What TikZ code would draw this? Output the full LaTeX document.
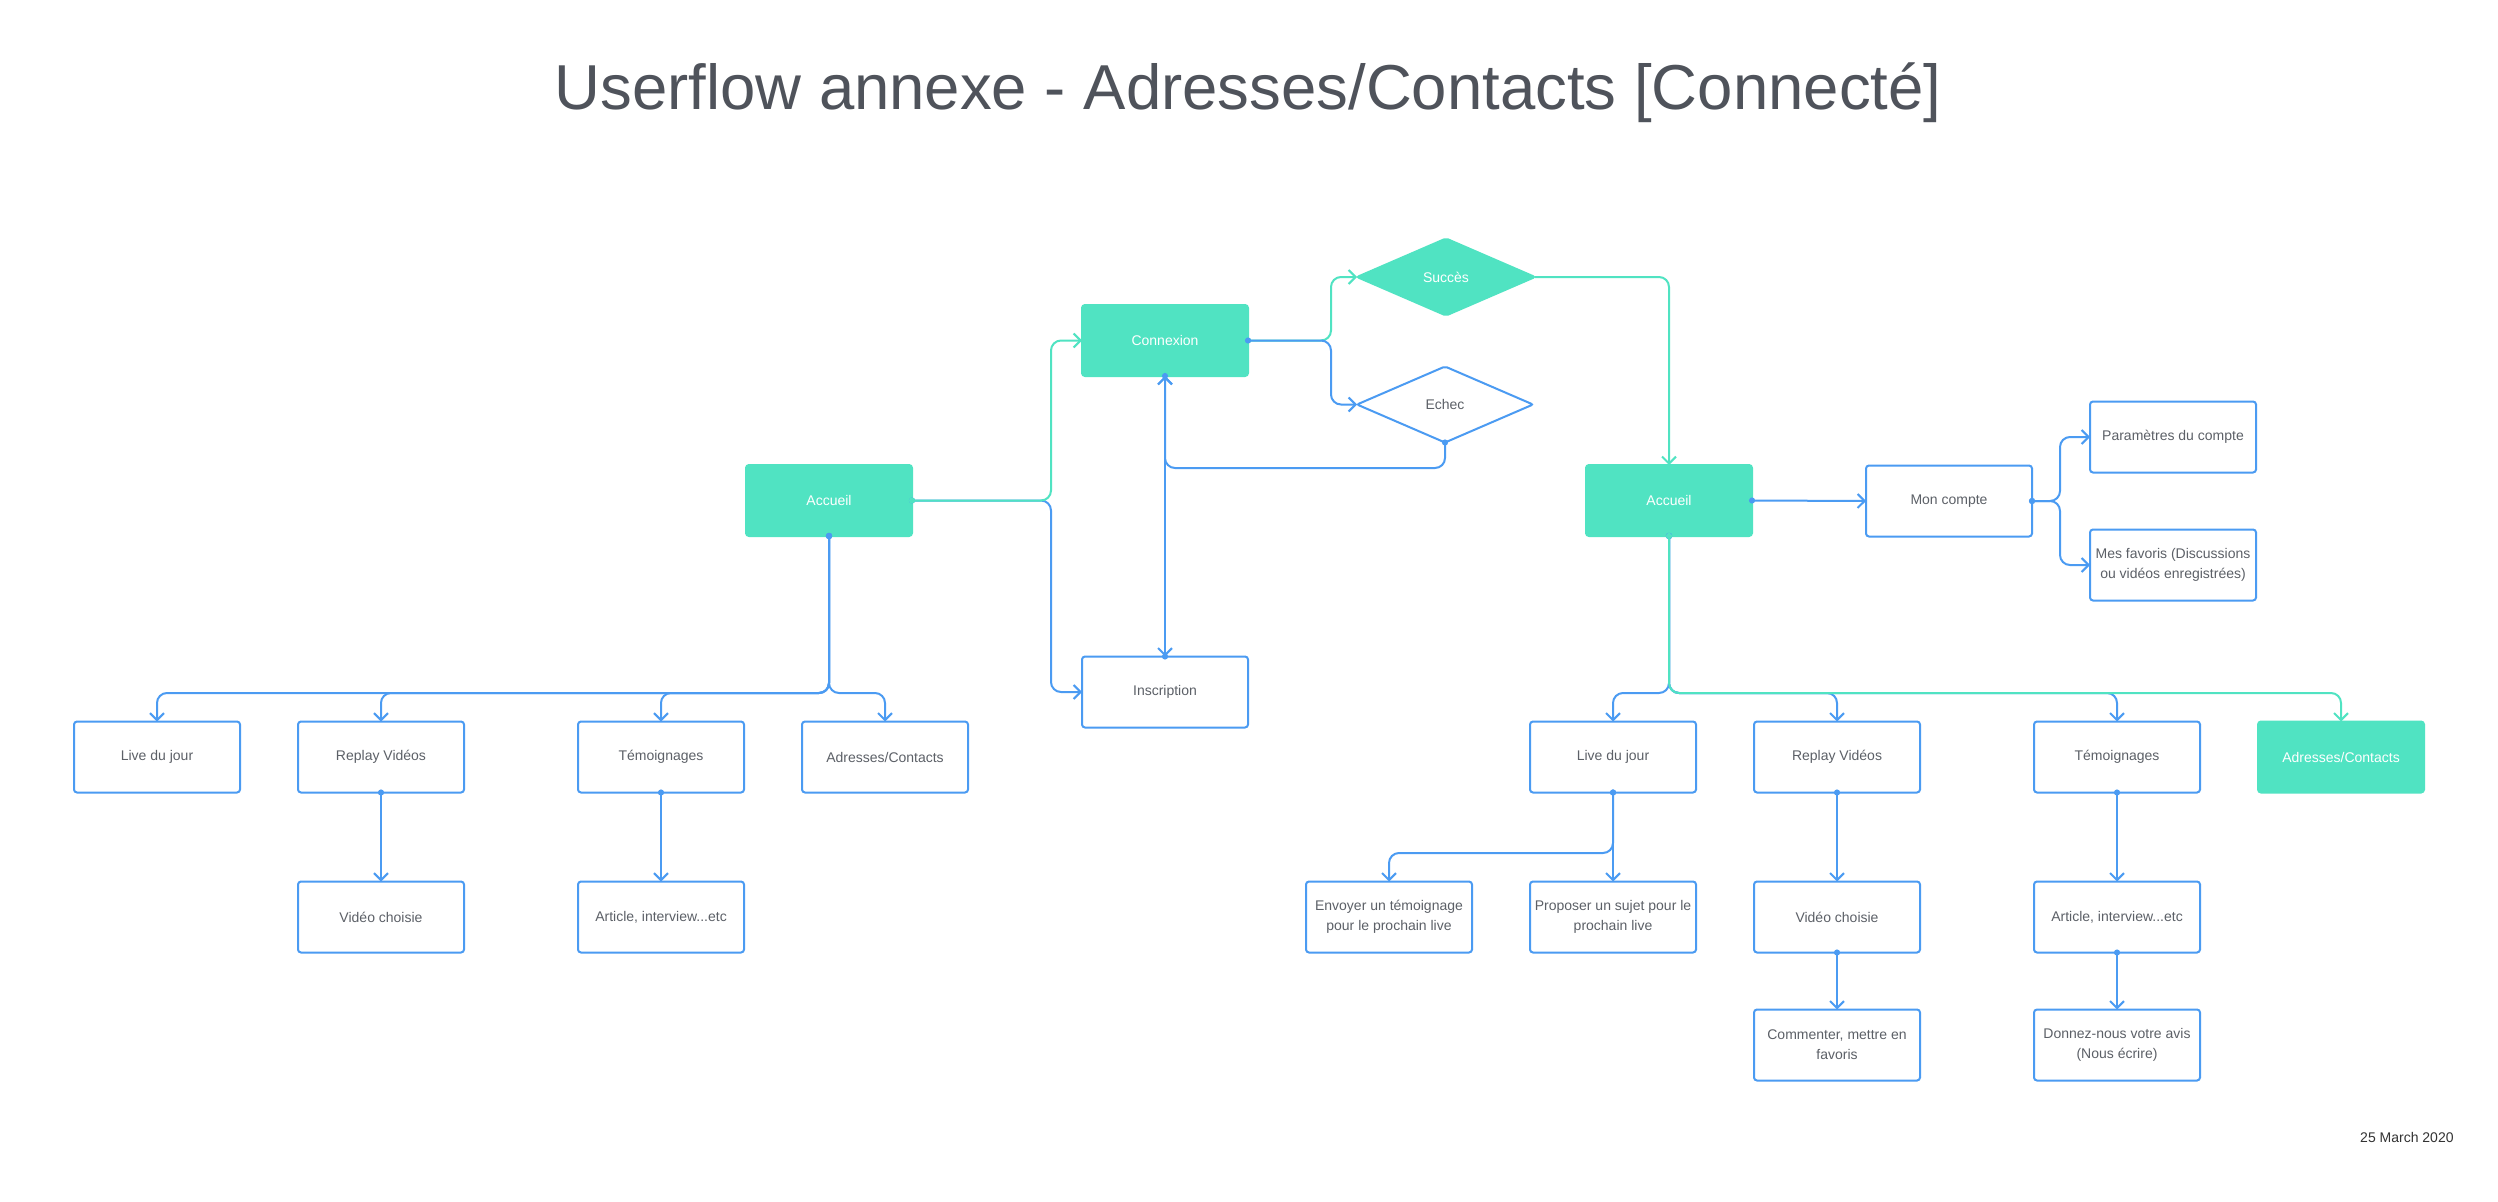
\documentclass[tikz,border=0pt]{standalone}
\usepackage{fontspec}
\setmainfont{Liberation Sans}
\usetikzlibrary{arrows.meta,shapes.geometric}
\definecolor{gr}{HTML}{50E3C2}
\definecolor{bl}{HTML}{4B9BF2}
\definecolor{tx}{HTML}{5C6067}
\definecolor{ttl}{HTML}{4F535B}
\definecolor{dt}{HTML}{333333}
\tikzset{
  box/.style={draw=bl, line width=2pt, rounded corners=3pt, fill=white,
    minimum width=166pt, minimum height=71pt, inner sep=0pt, outer sep=0pt,
    align=center, text=tx, font=\fontsize{14}{20}\selectfont},
  gbox/.style={box, draw=gr, fill=gr, text=white},
  dia/.style={diamond, line width=2pt, rounded corners=2pt, inner sep=0pt, outer sep=0pt,
    minimum width=176pt, minimum height=76pt, font=\fontsize{14}{20}\selectfont},
  gdia/.style={dia, draw=gr, fill=gr, text=white},
  bdia/.style={dia, draw=bl, fill=white, text=tx},
  link/.style={line width=2pt, rounded corners=10pt, shorten <=-3pt,
    {Circle[length=6pt]}-{Straight Barb[length=7pt,width=14pt]}},
  blink/.style={link, draw=bl},
  glink/.style={link, draw=gr},
  gplain/.style={line width=2pt, rounded corners=10pt, draw=gr,
    -{Straight Barb[length=7pt,width=14pt]}},
}
\begin{document}
\begin{tikzpicture}[x=1pt,y=-1pt]
\fill[white] (0,0) rectangle (2498,1202);
\useasboundingbox (0,0) rectangle (2498,1202);

% title and date
\node[anchor=base, text=ttl, font=\fontsize{63.5}{70}\selectfont, inner sep=0pt] (title) at (1248,109) {Userflow annexe - Adresses/Contacts [Connecté]};
\node[anchor=base west, text=dt, font=\fontsize{14}{17}\selectfont, inner sep=0pt] (date) at (2360,1142.5) {25 March 2020};

% left part
\node[gbox] (accL) at (829,500.5) {Accueil};
\node[gbox] (conx) at (1165,340.5) {Connexion};
\node[box] (insc) at (1165,692) {Inscription};
\node[gdia, minimum width=178pt, minimum height=77pt] (succ) at (1446,277) {Succès};
\node[bdia] (echec) at (1445,404.5) {Echec};
\node[box] (liveL) at (157,757) {Live du jour};
\node[box] (replL) at (381,757) {Replay Vidéos};
\node[box] (temoL) at (661,757) {Témoignages};
\node[box] (adrL) at (885,757) {Adresses/Contacts};
\node[box] (vidL) at (381,917) {Vidéo choisie};
\node[box] (artL) at (661,917) {Article, interview...etc};

% right part
\node[gbox] (accR) at (1669,500.5) {Accueil};
\node[box] (mon) at (1949,501) {Mon compte};
\node[box] (param) at (2173,437) {Paramètres du compte};
\node[box] (fav) at (2173,565) {Mes favoris (Discussions\\ou vidéos enregistrées)};
\node[box] (liveR) at (1613,757) {Live du jour};
\node[box] (replR) at (1837,757) {Replay Vidéos};
\node[box] (temoR) at (2117,757) {Témoignages};
\node[gbox] (adrR) at (2341,757) {Adresses/Contacts};
\node[box] (env) at (1389,917) {Envoyer un témoignage\\pour le prochain live};
\node[box] (prop) at (1613,917) {Proposer un sujet pour le\\prochain live};
\node[box] (vidR) at (1837,917) {Vidéo choisie};
\node[box] (artR) at (2117,917) {Article, interview...etc};
\node[box] (comm) at (1837,1045) {Commenter, mettre en\\favoris};
\node[box] (donn) at (2117,1045) {Donnez-nous votre avis\\(Nous écrire)};

% connectors, left
\draw[blink] (accL.east) -- (1051,500.5) |- (insc.west);
\draw[glink] (accL.east) -- (1051,500.5) |- (conx.west);
\draw[glink] (conx.east) -- (1331,340.5) |- (succ.west);
\draw[blink] (conx.east) -- (1331,340.5) |- (echec.west);
\draw[blink] (echec.south) -- (1445,468) -| (conx.south);
\draw[blink] (conx.south) -- (insc.north);
\draw[blink] (insc.north) -- (conx.south);
\draw[gplain] (succ.east) -| (accR.north);

\draw[blink] (accL.south) -- (829,693) -| (liveL.north);
\draw[blink] (accL.south) -- (829,693) -| (replL.north);
\draw[blink] (accL.south) -- (829,693) -| (temoL.north);
\draw[blink] (accL.south) -- (829,693) -| (adrL.north);
\draw[blink] (replL.south) -- (vidL.north);
\draw[blink] (temoL.south) -- (artL.north);

% connectors, right
\draw[blink] (accR.east) -- (mon.west);
\draw[blink] (mon.east) -- (2060,501) |- (param.west);
\draw[blink] (mon.east) -- (2060,501) |- (fav.west);
\draw[blink] (accR.south) -- (1669,693) -| (liveR.north);
\draw[blink] (accR.south) -- (1669,693) -| (replR.north);
\draw[blink] (accR.south) -- (1669,693) -| (temoR.north);
\draw[glink] (accR.south) -- (1669,693) -| (adrR.north);
\draw[blink] (liveR.south) -- (prop.north);
\draw[blink] (liveR.south) -- (1613,853) -| (env.north);
\draw[blink] (replR.south) -- (vidR.north);
\draw[blink] (vidR.south) -- (comm.north);
\draw[blink] (temoR.south) -- (artR.north);
\draw[blink] (artR.south) -- (donn.north);
\end{tikzpicture}
\end{document}
